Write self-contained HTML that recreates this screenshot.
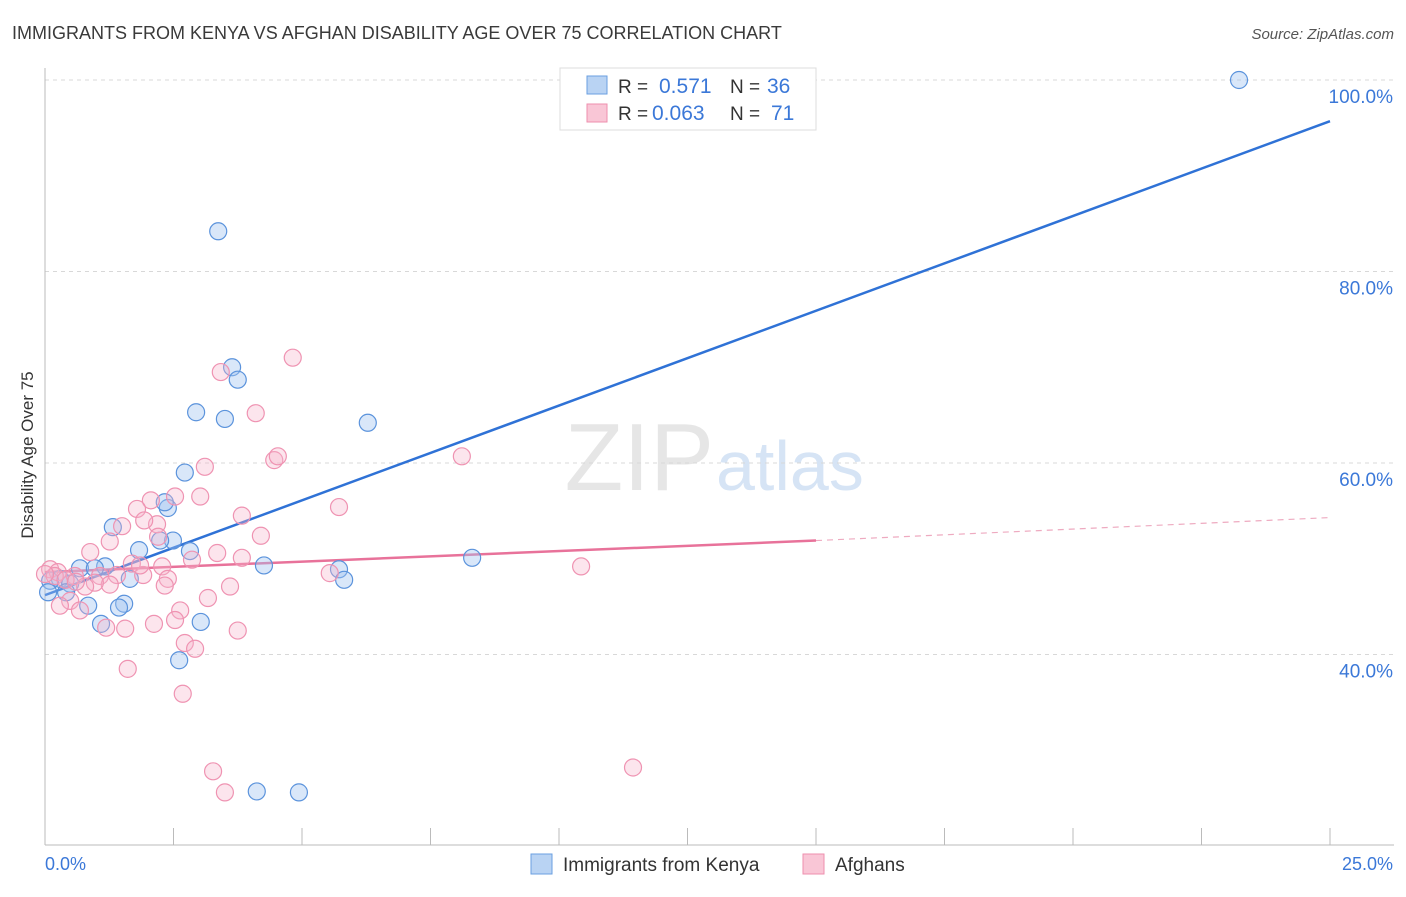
<!DOCTYPE html>
<html><head><meta charset="utf-8"><style>
body{margin:0;background:#fff;font-family:"Liberation Sans",sans-serif;}
svg text{font-family:"Liberation Sans",sans-serif;}
</style></head><body>
<svg id="chart" width="1406" height="892" xmlns="http://www.w3.org/2000/svg">
<text x="12" y="39" font-size="18" fill="#3a3a3a">IMMIGRANTS FROM KENYA VS AFGHAN DISABILITY AGE OVER 75 CORRELATION CHART</text>
<text x="1394" y="39" font-size="15" fill="#555" font-style="italic" text-anchor="end">Source: ZipAtlas.com</text>
<text x="714" y="490" font-size="96" fill="#e6e6e6" text-anchor="end" font-family="Liberation Serif">ZIP</text>
<text x="716" y="490" font-size="70" fill="#d6e4f5">atlas</text>
<g id="grid"></g><g id="axes"></g><g id="lines"></g><g id="pts"></g>
<text transform="translate(33,455) rotate(-90)" font-size="17" fill="#333" text-anchor="middle">Disability Age Over 75</text>
<g>
<rect x="560" y="68" width="256" height="62" fill="#fff" stroke="#ddd"/>
<rect x="587" y="76" width="20" height="18" fill="#b9d3f3" stroke="#6a9fe0"/>
<rect x="587" y="104" width="20" height="18" fill="#f9c6d6" stroke="#ee8fae"/>
<text x="618" y="93" font-size="19" fill="#333">R = </text><text x="659" y="93" font-size="21" fill="#3b78d8">0.571</text>
<text x="730" y="93" font-size="19" fill="#333">N = </text><text x="767" y="93" font-size="21" fill="#3b78d8">36</text>
<text x="618" y="120" font-size="19" fill="#333">R = </text><text x="652" y="120" font-size="21" fill="#3b78d8">0.063</text>
<text x="730" y="120" font-size="19" fill="#333">N = </text><text x="771" y="120" font-size="21" fill="#3b78d8">71</text>
</g>
<g><rect x="531" y="854" width="21" height="20" fill="#b9d3f3" stroke="#6a9fe0"/><text x="563" y="871" font-size="19" fill="#333">Immigrants from Kenya</text></g>
<g><rect x="803" y="854" width="21" height="20" fill="#f9c6d6" stroke="#ee8fae"/><text x="835" y="871" font-size="19" fill="#333">Afghans</text></g>
</svg>
<script>
const xTicks=[0,2.5,5,7.5,10,12.5,15,17.5,20,22.5,25];
const yTicks=[40,60,80,100];
const yTickLabels=["40.0%","60.0%","80.0%","100.0%"];
const kenyaX=[23.23,3.37,3.64,3.75,2.94,3.5,6.28,2.72,2.39,2.33,1.32,1.83,2.49,2.24,2.82,4.26,5.72,5.82,8.31,0.68,1.17,0.97,1.65,0.29,0.49,0.1,0.41,0.84,1.54,1.44,1.09,3.03,2.61,4.12,4.94,0.06];
const kenyaY=[100,84.2,70,68.7,65.3,64.6,64.2,59,55.3,55.9,53.3,50.9,51.9,51.9,50.8,49.3,48.9,47.8,50.1,49,49.2,49,47.9,47.9,47.4,47.7,46.5,45.1,45.3,44.9,43.2,43.4,39.4,25.7,25.6,46.5];
const afgX=[4.82,3.42,4.1,3.11,4.46,4.53,8.11,3.02,2.53,2.06,1.79,3.83,5.72,1.5,2.18,1.93,4.2,2.2,1.26,0.88,3.35,3.83,2.86,1.69,2.28,5.54,10.43,0.1,0.25,0.58,1.07,1.4,1.91,2.39,2.33,3.6,1.26,0.97,0.78,3.17,0.49,0.29,0.68,2.63,1.19,1.56,2.12,2.53,3.75,2.72,2.92,1.61,2.68,3.27,3.5,11.44,0.19,0,1.85,0.4,0.6];
const afgY=[71,69.5,65.2,59.6,60.3,60.7,60.7,56.5,56.5,56.1,55.2,54.5,55.4,53.4,53.6,54,52.4,52.3,51.8,50.7,50.6,50.1,49.9,49.5,49.2,48.5,49.2,48.9,48.6,48.2,48.2,48.3,48.3,47.9,47.2,47.1,47.3,47.5,47.1,45.9,45.6,45.1,44.6,44.6,42.8,42.7,43.2,43.6,42.5,41.2,40.6,38.5,35.9,27.8,25.6,28.2,48.2,48.4,49.3,47.8,47.6];
const kenyaTrend=[46.2,95.7];
const afgTrend=[48.6,51.9,54.3];
const X=v=>45+v/25*1285, Y=v=>80+(100-v)/20*191.5;
const NS="http://www.w3.org/2000/svg";
function mk(p,t,a){const e=document.createElementNS(NS,t);for(const k in a)e.setAttribute(k,a[k]);document.getElementById(p).appendChild(e);return e;}
yTicks.forEach((v,i)=>{
 const g=mk('grid','line',{x1:45,x2:1394,y1:Y(v),y2:Y(v),stroke:'#d8d8d8','stroke-dasharray':'4,4'});
 
 
 const t=mk('axes','text',{x:1393,y:Y(v)+23,'font-size':19,fill:'#3b78d8','text-anchor':'end'});t.textContent=yTickLabels[i];
 
 
});
mk('axes','line',{x1:45,x2:45,y1:68,y2:845,stroke:'#bbb'});
mk('axes','line',{x1:45,x2:1394,y1:845,y2:845,stroke:'#bbb'});
xTicks.forEach(v=>{const l=mk('axes','line',{x1:X(v),x2:X(v),y1:828,y2:845,stroke:'#bbb'});
 
 });
let t0=mk('axes','text',{x:45,y:870,'font-size':18,fill:'#3b78d8'});t0.textContent='0.0%';


let t1=mk('axes','text',{x:1393,y:870,'font-size':18,fill:'#3b78d8','text-anchor':'end'});t1.textContent='25.0%';


kenyaX.forEach((x,i)=>{const c=mk('pts','circle',{cx:X(x),cy:Y(kenyaY[i]),r:8.5,fill:'rgba(160,196,240,0.4)',stroke:'#5b93dc','stroke-width':1.2});
 
 });
afgX.forEach((x,i)=>{const c=mk('pts','circle',{cx:X(x),cy:Y(afgY[i]),r:8.5,fill:'rgba(246,180,202,0.35)',stroke:'#ef93b2','stroke-width':1.2});
 
 });
const bl=mk('lines','line',{x1:X(0),y1:Y(kenyaTrend[0]),x2:X(25),y2:Y(kenyaTrend[1]),stroke:'#2f72d6','stroke-width':2.5});


const pl=mk('lines','line',{x1:X(0),y1:Y(afgTrend[0]),x2:X(15),y2:Y(afgTrend[1]),stroke:'#e8729a','stroke-width':2.5});


const pd=mk('lines','line',{x1:X(15),y1:Y(afgTrend[1]),x2:X(25),y2:Y(afgTrend[2]),stroke:'#eeaac0','stroke-width':1.2,'stroke-dasharray':'6,5'});


</script>
</body></html>
